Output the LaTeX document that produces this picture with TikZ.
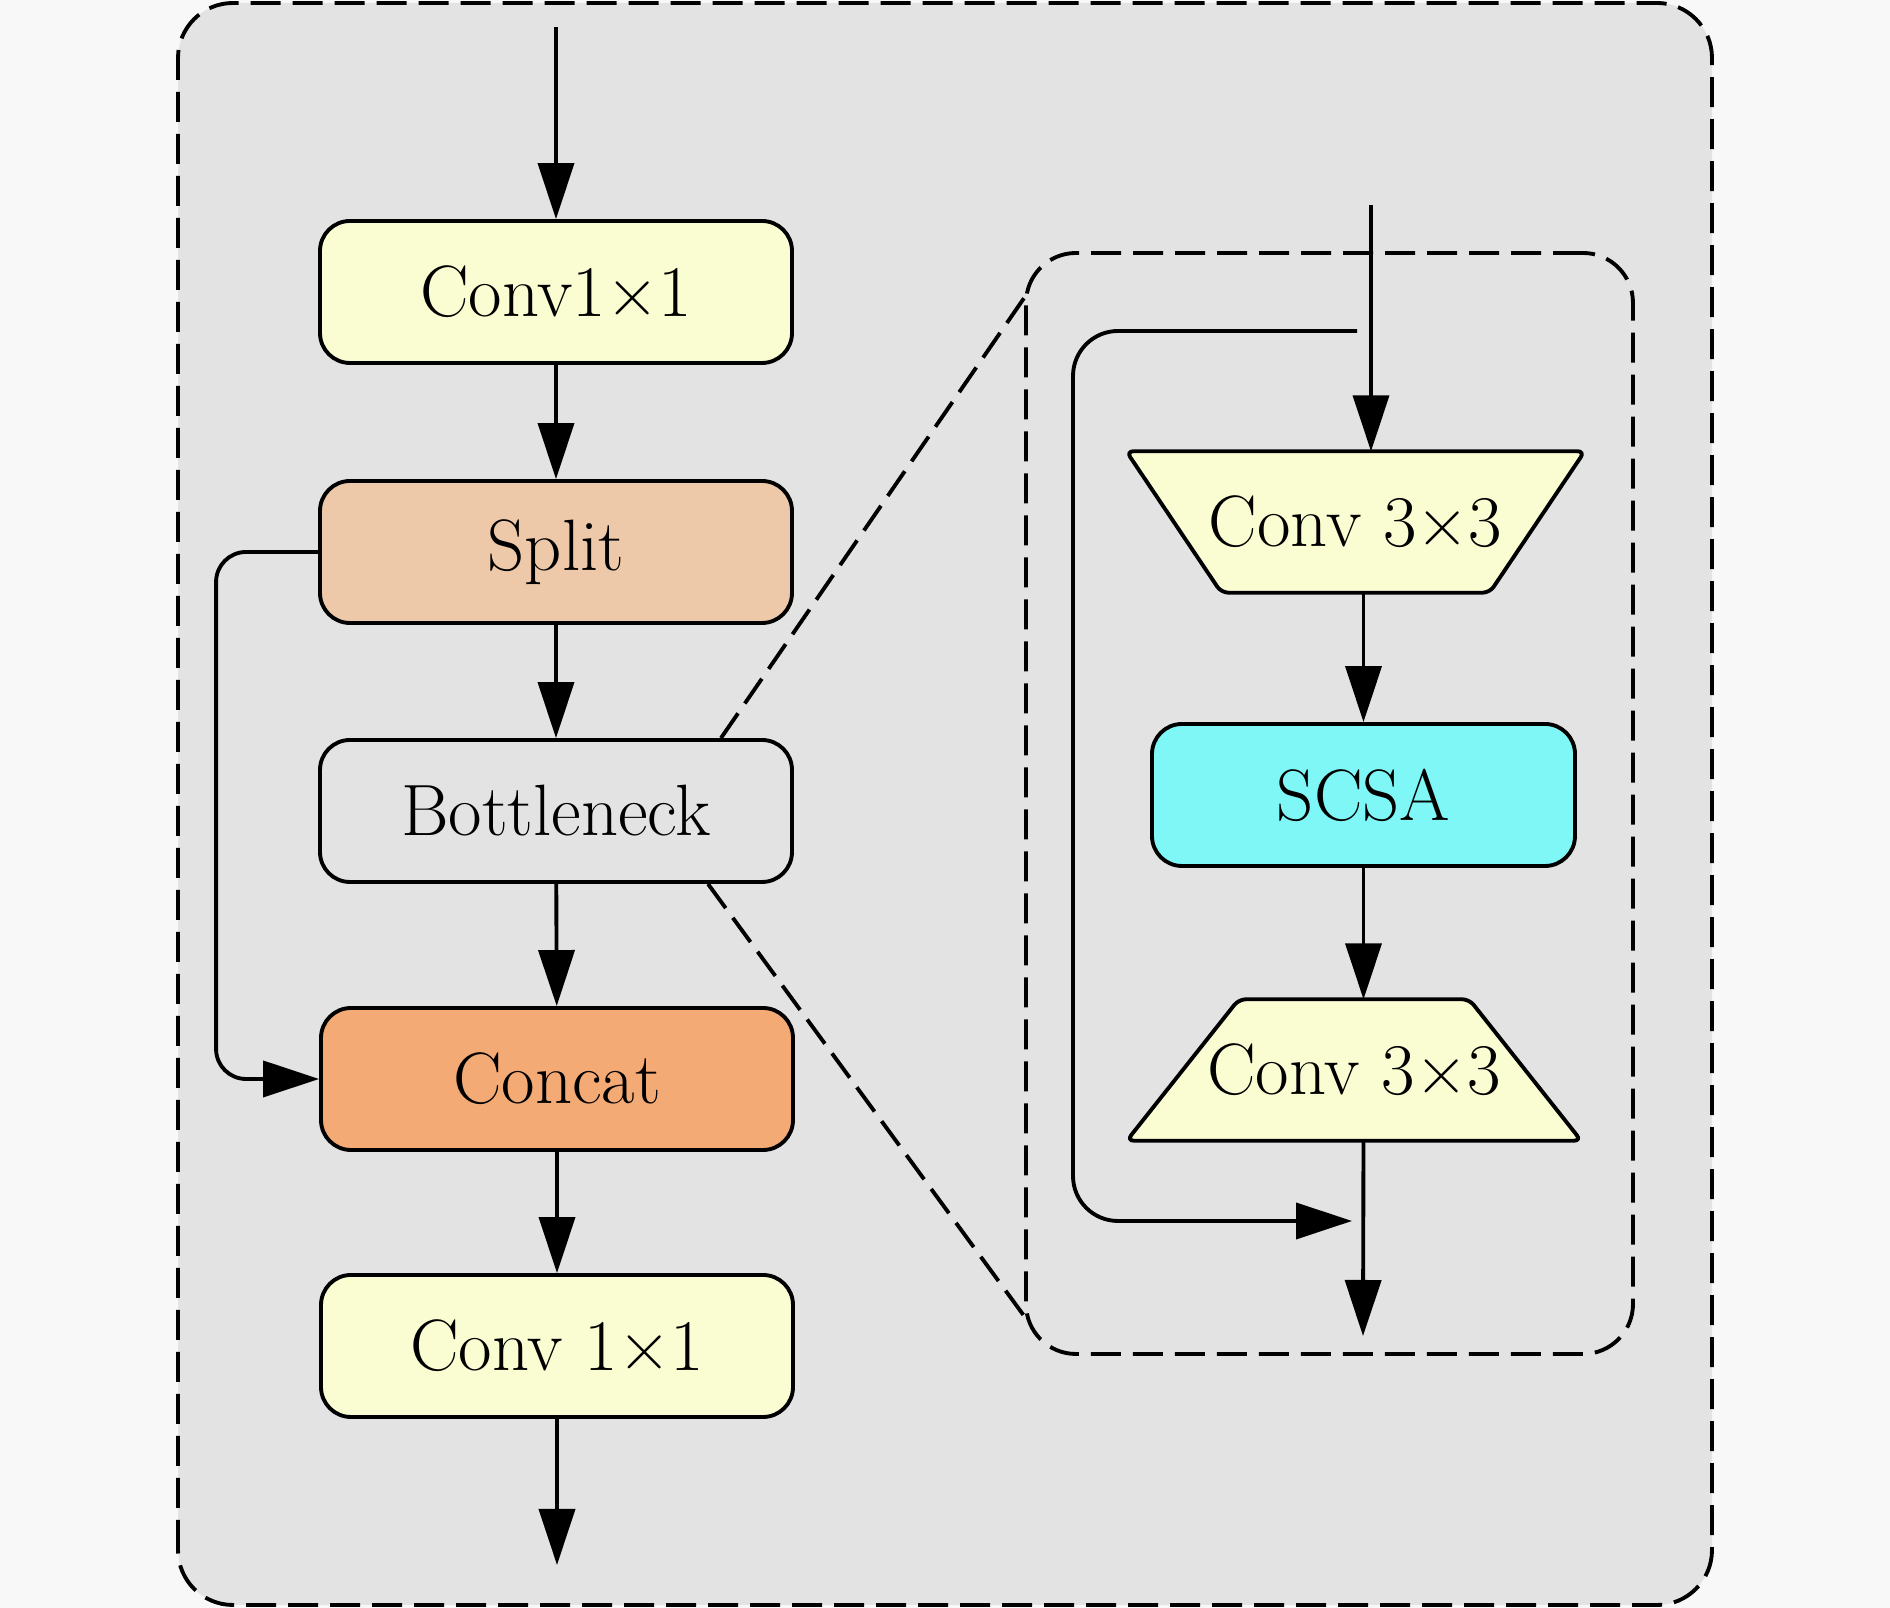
\documentclass[tikz,border=0pt]{standalone}
\usepackage{fontspec}
\usetikzlibrary{arrows.meta, positioning, calc, backgrounds}
\definecolor{pagebg}{RGB}{248,248,248}
\definecolor{panelgray}{RGB}{227,227,227}
\definecolor{convyellow}{RGB}{250,252,210}
\definecolor{splitpeach}{RGB}{237,201,169}
\definecolor{concatorange}{RGB}{244,170,117}
\definecolor{scsacyan}{RGB}{127,247,247}
\tikzset{
    block/.style={draw, line width=1.1pt, rounded corners=0.3cm, minimum width=4.72cm, minimum height=1.42cm, inner sep=0pt, font=\fontsize{20.7}{24}\selectfont},
    trapbox/.style={minimum height=1.40cm, inner sep=0pt, font=\fontsize{20.7}{24}\selectfont},
    trapline/.style={draw, line width=1.1pt, rounded corners=2pt, fill=convyellow},
    flow/.style={line width=1.1pt, -{Triangle[length=0.56cm, width=0.36cm]}},
    frame/.style={line width=1.1pt, dash pattern=on 0.3cm off 0.12cm}
}

\begin{document}
\begin{tikzpicture}
    \useasboundingbox (0,0) rectangle (18.9,16.08);

    % C2f column
    \node[block, fill=convyellow] (conva) at (5.56,13.16) {Conv1×1};
    \node[block, fill=splitpeach] (split) at (5.56,10.56) {Split};
    \node[block, fill=panelgray] (bneck) at (5.56,7.97) {Bottleneck};
    \node[block, fill=concatorange] (concat) at (5.57,5.29) {Concat};
    \node[block, fill=convyellow] (convb) at (5.57,2.62) {Conv 1×1};
    \coordinate (cin) at (5.56,15.81);
    \coordinate (cout) at (5.57,0.43);

    \draw[flow] (cin) -- (conva);
    \draw[flow] (conva) -- (split);
    \draw[flow] (split) -- (bneck);
    \draw[flow] (bneck) -- (concat);
    \draw[flow] (concat) -- (convb);
    \draw[flow] (convb) -- (cout);
    \draw[flow, rounded corners=0.3cm] (split.west) -- ++(-1.02,0) |- (concat.west);

    % Bottleneck detail
    \node[frame, draw, rounded corners=0.5cm, minimum width=6.07cm, minimum height=11.01cm] (detail) at (13.295,8.045) {};
    \node[trapbox, minimum width=4.57cm] (convc) at (13.555,10.86) {Conv 3×3};
    \node[block, fill=scsacyan, minimum width=4.23cm] (scsa) at (13.635,8.13) {SCSA};
    \node[trapbox, minimum width=4.53cm] (convd) at (13.54,5.38) {Conv 3×3};
    \coordinate (din) at (13.71,14.03);
    \coordinate (dout) at (13.63,2.72);
    \coordinate (dskip) at (13.57,12.77);
    \coordinate (dadd) at (13.52,3.87);

    \draw[flow] (din) -- (din |- convc.north);
    \draw[flow] (scsa.north |- convc.south) -- (scsa.north);
    \draw[flow] (scsa.south) -- (scsa.south |- convd.north);
    \draw[flow] (scsa.south |- convd.south) -- (dout);
    \draw[flow, rounded corners=0.45cm] (dskip) -- ++(-2.84,0) |- (dadd);

    % Zoom lines
    \draw[frame] ([xshift=1.65cm]bneck.north) -- ([yshift=-0.47cm]detail.north west);
    \draw[frame] ([xshift=1.52cm]bneck.south) -- ([yshift=0.40cm]detail.south west);

    \begin{scope}[on background layer]
        \fill[pagebg] (0,0) rectangle (18.9,16.08);
        % Outer panel
        \draw[frame, fill=panelgray, rounded corners=0.55cm] (1.78,0.03) rectangle (17.12,16.05);
        % Trapezoid convs
        \path[trapline] (convc.north west) -- (convc.north east) -- ([xshift=-0.95cm]convc.south east) -- ([xshift=0.95cm]convc.south west) -- cycle;
        \path[trapline] ([xshift=1.12cm]convd.north west) -- ([xshift=-1.12cm]convd.north east) -- (convd.south east) -- (convd.south west) -- cycle;
    \end{scope}
\end{tikzpicture}
\end{document}
